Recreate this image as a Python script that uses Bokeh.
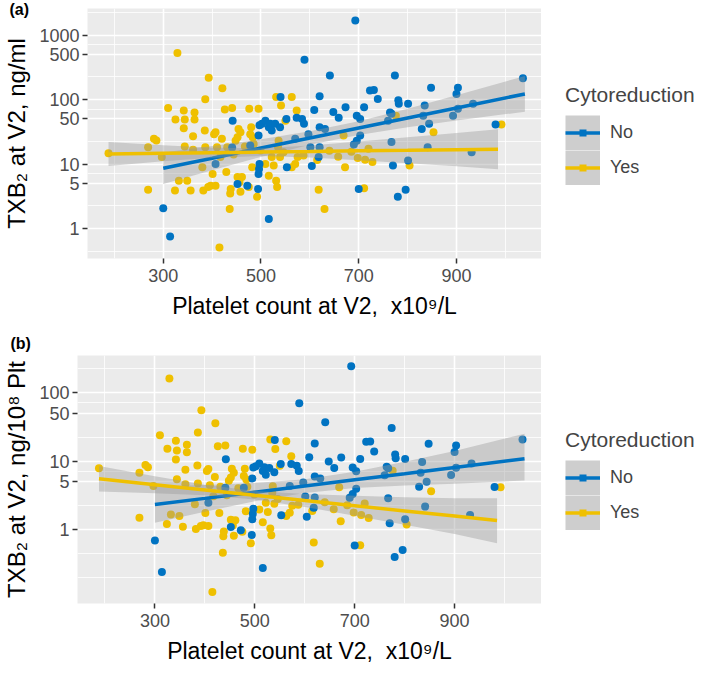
from bokeh.plotting import figure
from bokeh.models import (ColumnDataSource, FixedTicker, Legend, LegendItem, Title,
                          Range1d, NumeralTickFormatter)
from bokeh.layouts import column, row
from bokeh.embed import file_html
from bokeh.resources import INLINE

FONT = "Liberation Sans"
BLUE = "#0073C2"
YELLOW = "#EFC000"

# ---------------- data ----------------
yes_plt = [188, 269, 269, 281, 286, 297, 310, 324, 329, 325, 332, 342, 344, 342, 344, 349, 356,
           361, 364, 364, 361, 380, 382, 385, 386, 393, 386, 392, 397, 401, 404, 407, 407, 410,
           415, 417, 421, 420, 426, 429, 431, 441, 436, 437, 438, 444, 448, 452, 454, 458, 452,
           456, 461, 458, 467, 471, 475, 476, 478, 480, 485, 483, 492, 495, 499, 482, 509, 516,
           522, 526, 531, 531, 533, 541, 535, 539, 546, 536, 550, 563, 573, 563, 570, 575, 618,
           630, 672, 669, 776, 698, 713, 720, 728, 804, 853, 992, 711, 587, 615, 640, 658, 685]
yes_txb = [14.7, 4.0, 18.2, 24.6, 23.1, 12.8, 74, 3.9, 525, 49, 5.5, 67.5, 49, 36, 18.7, 5.5, 3.9,
           27, 63, 49, 16.6, 8.9, 3.9, 33, 101, 217, 18.2, 4.4, 4.6, 7.0, 29, 31, 4.6, 18.2,
           0.51, 12.8, 150, 24.6, 70, 7.5, 18.2, 74, 2.0, 3.5, 4.1, 14, 23, 26, 35, 31, 6.3,
           5.2, 6.3, 3.7, 18.7, 16.6, 4.4, 72, 29, 37, 20.5, 26, 3.1, 72, 16.2, 8.9, 10, 6.6,
           12.8, 9.5, 109, 5.5, 4.4, 81, 18.2, 12.8, 15.2, 23, 47, 109, 67.5, 8.9, 10, 12.8, 4.0,
           2.0, 8.9, 27.6, 56, 12.4, 11.6, 17.2, 10.7, 9.5, 31, 41, 4.2, 13.5, 11.5, 16, 13, 15.5]

no_plt = [300, 314, 407, 442, 452, 472, 478, 494, 495, 496, 497, 495, 497, 502, 509, 516, 519,
          516, 522, 529, 540, 539, 552, 553, 573, 584, 588, 589, 604, 609, 620, 618, 641, 648,
          659, 673, 597, 620, 631, 601, 620, 570, 696, 700, 696, 441,
          693, 703, 690, 703, 723, 731, 739, 711, 774, 781, 782, 801, 764, 767, 760, 767, 770,
          801, 780, 796, 829, 835, 832, 844, 841, 848, 893, 900, 903, 903, 934, 931, 980, 1036]
no_txb = [2.07, 0.75, 10, 47, 4.9, 4.6, 19.4, 4.1, 7.0, 8.4, 10, 27.6, 40, 42, 47, 37, 42,
          1.41, 33, 42, 109, 37, 50, 8.9, 52, 50, 42, 412, 9.3, 69, 112, 12.8, 235, 64,
          52, 76, 29, 37, 35, 18.2, 18.2, 24.6, 56, 4.1, 23, 18,
          1680, 50, 20, 27.6, 138, 141, 102, 76, 235, 97, 86, 86, 63, 60, 47, 22, 9.5,
          11.3, 3.1, 4.0, 35, 81, 56, 42, 18.2, 152, 56, 122, 152, 72, 86, 15.2, 41, 214]

# TXB2 per 10^8 platelets = TXB2 (ng/ml) * 100 / platelet count (x10^9/L)
yes_txb_plt = [t * 100.0 / c for t, c in zip(yes_txb, yes_plt)]
no_txb_plt = [t * 100.0 / c for t, c in zip(no_txb, no_plt)]

x_ticks = [300, 500, 700, 900]
x_minor = [200, 400, 600, 800, 1000]
a_ticks = [1, 5, 10, 50, 100, 500, 1000]
a_minor = [0.447, 2.236, 7.071, 22.36, 70.71, 223.6, 707.1, 2236]
b_ticks = [1, 5, 10, 50, 100]
b_minor = [0.2, 0.447, 2.236, 7.071, 22.36, 70.71, 223.6]

# linear-model fits with 95% bands
no_fit_x = [300, 400, 500, 600, 700, 800, 900, 1040]
no_fit_a = [8.6, 12.3, 17.7, 25.3, 36.2, 51.8, 74.1, 122]
no_lo_a = [4.9, 8.0, 12.9, 19.9, 28.2, 37.2, 47.3, 64.7]
no_hi_a = [15.1, 19.0, 24.2, 32.1, 46.2, 71.9, 116, 232]
yes_fit_x = [188, 300, 400, 500, 600, 700, 800, 900, 985]
yes_fit_a = [14.3, 14.7, 15.0, 15.3, 15.6, 16.0, 16.3, 16.7, 17.0]
yes_lo_a = [9.3, 11.0, 12.5, 13.3, 12.6, 11.4, 10.3, 9.2, 8.3]
yes_hi_a = [21.9, 19.5, 17.9, 17.6, 19.4, 22.3, 26.0, 30.3, 34.7]

no_fit_b = [2.32, 2.85, 3.51, 4.32, 5.32, 6.54, 8.05, 10.8]
no_lo_b = [1.26, 1.82, 2.58, 3.42, 4.05, 4.41, 4.65, 5.2]
no_hi_b = [4.25, 4.46, 4.78, 5.44, 7.0, 9.73, 14.0, 25.0]
yes_fit_b = [5.5, 4.5, 3.78, 3.16, 2.65, 2.23, 1.87, 1.57, 1.35]
yes_lo_b = [3.58, 3.38, 3.16, 2.75, 2.14, 1.59, 1.17, 0.86, 0.63]
yes_hi_b = [8.43, 5.98, 4.51, 3.64, 3.30, 3.12, 2.97, 2.85, 2.85]

groups = ["No", "Yes"]
X_LABEL = "Platelet count at V2, \u00a0x10\u2079/L"
PLOT_W = 541
LEG_W = 168


def panel(tag, tag_offset, tag_standoff, y_no, y_yes, yr, ticks, minor, ylabel, fits,
          left, top, bottom, height):
    p = figure(width=PLOT_W, height=height, x_range=Range1d(145, 1074), y_range=Range1d(*yr),
               y_axis_type="log", output_backend="svg", toolbar_location=None,
               min_border_left=left, min_border_right=0, min_border_top=top,
               min_border_bottom=bottom)
    p.background_fill_color = "#EBEBEB"
    p.border_fill_color = "white"
    p.outline_line_color = None

    p.title = Title(text=tag, align="left", vertical_align="bottom", offset=tag_offset,
                    standoff=tag_standoff, text_font=FONT, text_font_size="16px",
                    text_font_style="bold", text_color="black")

    p.xaxis.ticker = FixedTicker(ticks=x_ticks, minor_ticks=x_minor)
    p.yaxis.ticker = FixedTicker(ticks=ticks, minor_ticks=minor)
    p.yaxis.formatter = NumeralTickFormatter(format="0")
    for g in (p.xgrid[0], p.ygrid[0]):
        g.grid_line_color = "white"
        g.grid_line_width = 1.6
        g.minor_grid_line_color = "white"
        g.minor_grid_line_width = 0.8

    for ax in (p.xaxis[0], p.yaxis[0]):
        ax.axis_line_color = None
        ax.major_tick_line_color = "#333333"
        ax.major_tick_line_width = 1.5
        ax.major_tick_out = 5
        ax.major_tick_in = 0
        ax.minor_tick_line_color = None
        ax.major_label_text_color = "#4D4D4D"
        ax.major_label_text_font = FONT
        ax.major_label_text_font_size = "18px"
        ax.axis_label_text_font = FONT
        ax.axis_label_text_font_style = "normal"
        ax.axis_label_text_color = "black"
    p.xaxis.axis_label = X_LABEL
    p.xaxis.axis_label_text_font_size = "23px"
    p.xaxis.axis_label_standoff = 8
    p.yaxis.axis_label = ylabel
    p.yaxis.axis_label_text_font_size = "24px"
    p.yaxis.major_label_standoff = 3
    p.yaxis.axis_label_standoff = 6

    p.scatter(x="x", y="y", source=ColumnDataSource(dict(x=yes_plt, y=y_yes)),
              size=8, fill_color=YELLOW, line_color=None)
    p.scatter(x="x", y="y", source=ColumnDataSource(dict(x=no_plt, y=y_no)),
              size=8, fill_color=BLUE, line_color=None)

    (nf, nl, nh, yf, yl, yh) = fits
    p.varea(x=no_fit_x, y1=nl, y2=nh, fill_color="#999999", fill_alpha=0.4)
    p.line(x=no_fit_x, y=nf, line_color=BLUE, line_width=3.5)
    p.varea(x=yes_fit_x, y1=yl, y2=yh, fill_color="#999999", fill_alpha=0.4)
    p.line(x=yes_fit_x, y=yf, line_color=YELLOW, line_width=3.5)
    return p


def legend_box(height, top, bottom):
    # separate legend canvas at the right; its key glyphs sit outside its (hidden) ranges
    q = figure(width=LEG_W, height=height, x_range=Range1d(0, 1), y_range=Range1d(0, 1),
               x_axis_type=None, y_axis_type=None, output_backend="svg",
               toolbar_location=None, min_border_left=0, min_border_right=0,
               min_border_top=top, min_border_bottom=bottom)
    q.outline_line_color = None
    q.background_fill_color = "white"
    q.border_fill_color = "white"
    off = dict(x=[5, 6], y=[5, 6])
    key_bg = q.line(x=off["x"], y=off["y"], line_color="#CECECE", line_width=35)
    items = []
    for g, col in zip(groups, [BLUE, YELLOW]):
        ln = q.line(x=off["x"], y=off["y"], line_color=col, line_width=3.5)
        dot = q.line(x=off["x"], y=off["y"], line_color=col, line_width=7,
                     line_dash="0 14 7 100")
        items.append(LegendItem(label=g, renderers=[key_bg, ln, dot]))
    # location: pixels from the bottom-left corner of the (row-aligned) frame
    leg = Legend(items=items, location=(24, 73), title="Cytoreduction",
                 title_text_font=FONT, title_text_font_size="21px",
                 title_text_font_style="normal", title_standoff=8,
                 label_text_font=FONT, label_text_font_size="18px", label_standoff=10,
                 glyph_width=35, glyph_height=35, label_height=35, spacing=0,
                 padding=0, margin=0, border_line_color=None, background_fill_alpha=0)
    q.add_layout(leg)
    return q


pa = panel("(a)", -78, -18, no_txb, yes_txb, (0.343, 2576), a_ticks, a_minor,
           "TXB\u2082 at V2, ng/ml",
           (no_fit_a, no_lo_a, no_hi_a, yes_fit_a, yes_lo_a, yes_hi_a),
           left=85, top=8, bottom=67, height=325)
pb = panel("(b)", -67, 8, no_txb_plt, yes_txb_plt, (0.0832, 347), b_ticks, b_minor,
           "TXB\u2082 at V2, ng/10\u2078 Plt",
           (no_fit_b, no_lo_b, no_hi_b, yes_fit_b, yes_lo_b, yes_hi_b),
           left=75, top=30, bottom=83, height=361)
la = legend_box(325, 8, 67)
lb = legend_box(361, 30, 83)

layout = column(row(pa, la), row(pb, lb))
open("out.html", "w").write(file_html(layout, INLINE))
